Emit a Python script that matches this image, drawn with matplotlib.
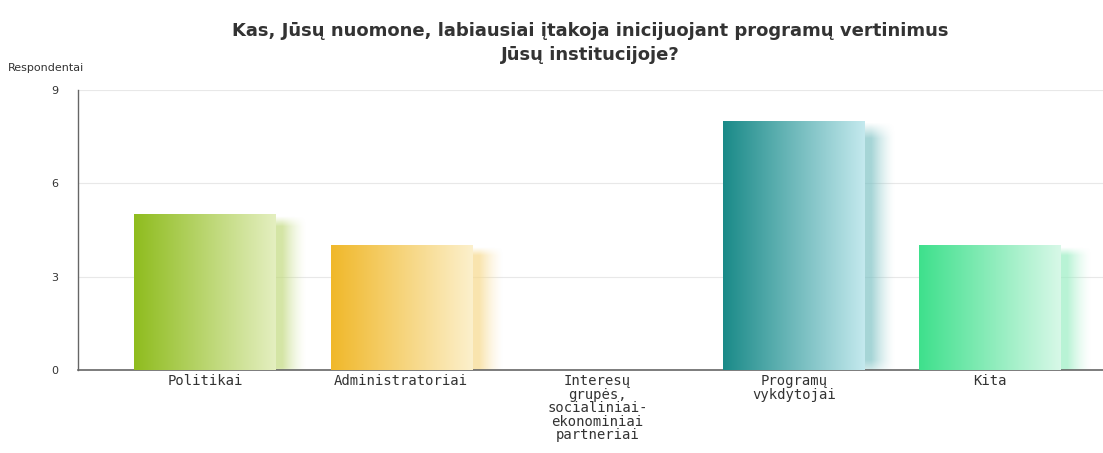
import numpy as np
import matplotlib
matplotlib.use("Agg")
import matplotlib.pyplot as plt
from matplotlib.colors import to_rgb

categories = ["Politikai", "Administratoriai",
              "Interesų\ngrupės,\nsocialiniai-\nekonominiai\npartneriai",
              "Programų\nvykdytojai", "Kita"]
values = [5, 4, 0, 8, 4]
bar_colors_dark = ["#8fbc1e", "#f0b82a", "#f0b82a", "#1a8a88", "#3ee08c"]
bar_colors_light = ["#e4efc0", "#fcf0cc", "#fcf0cc", "#c4e9ee", "#d8f8e8"]
yticks = [0, 3, 6, 9]
title = "Kas, Jūsų nuomone, labiausiai įtakoja inicijuojant programų vertinimus\nJūsų institucijoje?"
ylabel = "Respondentai"

fig = plt.figure(figsize=(11.03, 4.53), dpi=100)
ax = fig.add_axes([78/1103, 1 - 370/453, 1 - 78/1103, 280/453])
ax.set_xlim(-0.647, 4.576)
ax.set_ylim(0, 9)

width = 0.72
for i, (v, cd, cl) in enumerate(zip(values, bar_colors_dark, bar_colors_light)):
    if v <= 0:
        continue
    d = np.array(to_rgb(cd)); l = np.array(to_rgb(cl))
    # blurred shadow
    nx, ny = 200, 200
    sx0, sx1 = i - width/2 + 0.0, i + width/2 + 0.16
    sy0, sy1 = -0.35, v - 0.05
    xs = np.linspace(0, 1, nx); ys = np.linspace(0, 1, ny)
    ex = 0.14
    ax_ = np.clip(np.minimum(xs / ex, (1 - xs) / ex), 0, 1)
    ax_ = ax_ ** 1.5
    ay_ = np.clip(np.minimum(ys / 0.08, (1 - ys) / 0.06), 0, 1)
    alpha = np.outer(ay_, ax_) * 0.7
    sh = np.zeros((ny, nx, 4))
    sh[..., :3] = (d * 0.4 + l * 0.6)
    sh[..., 3] = alpha
    ax.imshow(sh, extent=(sx0, sx1, sy0, sy1), origin="lower", aspect="auto",
              interpolation="bilinear", zorder=2, clip_on=True)
    # gradient bar
    t = np.linspace(0, 1, 256)
    grad = d[None, :] * (1 - t[:, None]) + l[None, :] * t[:, None]
    img = np.tile(grad[None, :, :], (2, 1, 1))
    ax.imshow(img, extent=(i - width/2, i + width/2, 0, v), origin="lower",
              aspect="auto", interpolation="bilinear", zorder=3)

ax.set_xlim(-0.647, 4.576)
ax.set_ylim(0, 9)
ax.set_yticks(yticks)
ax.set_yticklabels([str(t) for t in yticks], fontsize=8, color="#333333")
ax.set_xticks(range(len(categories)))
ax.set_xticklabels(categories, fontsize=10, color="#333333",
                   family="DejaVu Sans Mono", linespacing=0.95)
ax.tick_params(axis="x", length=0, pad=3)
ax.tick_params(axis="y", length=0, pad=14)
ax.grid(axis="y", color="#e8e8e8", linewidth=0.8, zorder=0)
ax.set_axisbelow(True)
for s in ["top", "right"]:
    ax.spines[s].set_visible(False)
ax.spines["left"].set_color("#666666")
ax.spines["bottom"].set_color("#666666")
ax.spines["left"].set_linewidth(1)
ax.spines["bottom"].set_linewidth(1.2)

fig.text(590/1103, 1 - 43/453, title, ha="center", va="center", fontsize=13,
         fontweight="bold", color="#333333", linespacing=1.45)
fig.text(8/1103, 1 - 68/453, ylabel, ha="left", va="center", fontsize=8, color="#333333")

fig.savefig("out.png", dpi=100)
